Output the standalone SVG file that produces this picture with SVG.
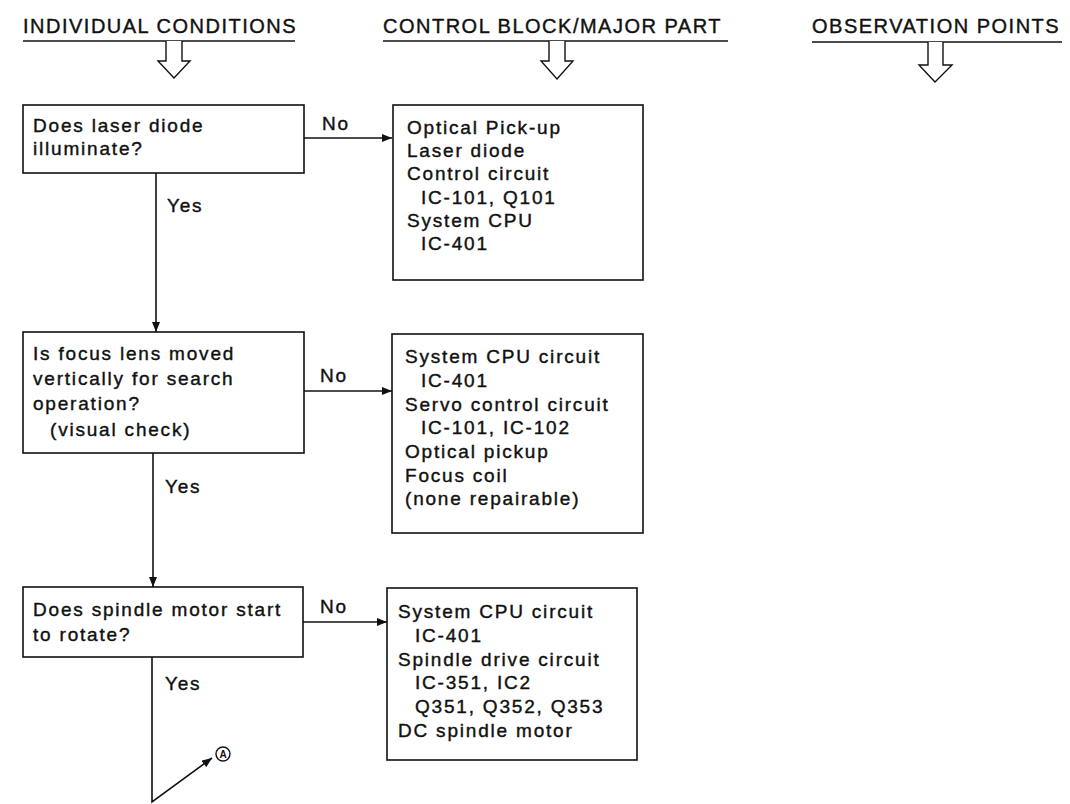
<svg xmlns="http://www.w3.org/2000/svg" width="1070" height="804" viewBox="0 0 1070 804">
<style>
text{font-family:"Liberation Sans",Arial,sans-serif;fill:#111;stroke:#111;stroke-width:0.4}
.h{font-size:20px;letter-spacing:1.5px}
.t{font-size:19px;letter-spacing:1.8px}
.box{fill:#fff;stroke:#111;stroke-width:1.6}
.ln{fill:none;stroke:#111;stroke-width:1.6}
.hol{fill:#fff;stroke:#111;stroke-width:1.4;stroke-linejoin:miter}
</style>
<defs>
<marker id="ah" viewBox="0 0 10 8" refX="10" refY="4" markerWidth="11" markerHeight="8" markerUnits="userSpaceOnUse" orient="auto">
<path d="M0,0 L10,4 L0,8 Z" fill="#111"/>
</marker>
</defs>
<g id="headers">
<text class="h" x="23" y="33">INDIVIDUAL CONDITIONS</text>
<line class="ln" x1="23" y1="41" x2="295" y2="41"/>
<path class="hol" d="M166,41 V61 H158 L174,78 L190,61 H182 V41"/>
<text class="h" x="383" y="33">CONTROL BLOCK/MAJOR PART</text>
<line class="ln" x1="383" y1="41" x2="728" y2="41"/>
<path class="hol" d="M549,41 V61 H541 L557,79 L573,61 H565 V41"/>
<text class="h" x="812" y="33">OBSERVATION POINTS</text>
<line class="ln" x1="812" y1="42" x2="1062" y2="42"/>
<path class="hol" d="M928,42 V65 H919 L935,82 L952,65 H943 V42"/>
</g>
<g id="connectors">
<line class="ln" x1="304" y1="138" x2="392" y2="138" marker-end="url(#ah)"/>
<line class="ln" x1="156" y1="173" x2="156" y2="332" marker-end="url(#ah)"/>
<line class="ln" x1="304" y1="391" x2="392" y2="391" marker-end="url(#ah)"/>
<line class="ln" x1="153" y1="453" x2="153" y2="587" marker-end="url(#ah)"/>
<line class="ln" x1="303" y1="622" x2="387" y2="622" marker-end="url(#ah)"/>
<polyline class="ln" points="152,657 152,802 212,758" marker-end="url(#ah)"/>
<text class="t" x="322" y="130">No</text>
<text class="t" x="167" y="212">Yes</text>
<text class="t" x="320" y="382">No</text>
<text class="t" x="165" y="493">Yes</text>
<text class="t" x="320" y="613">No</text>
<text class="t" x="165" y="690">Yes</text>
<circle cx="223" cy="754" r="7" fill="#fff" stroke="#111" stroke-width="1.4"/>
<text x="223" y="758" text-anchor="middle" style="font-size:10px;font-weight:bold;stroke-width:0">A</text>
</g>
<g id="q1">
<rect class="box" x="23" y="105" width="281" height="68"/>
<text class="t" x="33" y="132">Does laser diode</text>
<text class="t" x="33" y="155">illuminate?</text>
</g>
<g id="r1">
<rect class="box" x="393" y="105" width="250" height="175"/>
<text class="t" x="407" y="134">Optical Pick-up</text>
<text class="t" x="407" y="157">Laser diode</text>
<text class="t" x="407" y="180">Control circuit</text>
<text class="t" x="421" y="204">IC-101, Q101</text>
<text class="t" x="407" y="227">System CPU</text>
<text class="t" x="421" y="250">IC-401</text>
</g>
<g id="q2">
<rect class="box" x="23" y="332" width="281" height="121"/>
<text class="t" x="33" y="360">Is focus lens moved</text>
<text class="t" x="33" y="385">vertically for search</text>
<text class="t" x="33" y="410">operation?</text>
<text class="t" x="50" y="436">(visual check)</text>
</g>
<g id="r2">
<rect class="box" x="392" y="334" width="251" height="199"/>
<text class="t" x="405" y="363">System CPU circuit</text>
<text class="t" x="421" y="387">IC-401</text>
<text class="t" x="405" y="411">Servo control circuit</text>
<text class="t" x="421" y="434">IC-101, IC-102</text>
<text class="t" x="405" y="458">Optical pickup</text>
<text class="t" x="405" y="482">Focus coil</text>
<text class="t" x="405" y="505">(none repairable)</text>
</g>
<g id="q3">
<rect class="box" x="23" y="587" width="280" height="70"/>
<text class="t" x="33" y="616">Does spindle motor start</text>
<text class="t" x="33" y="641">to rotate?</text>
</g>
<g id="r3">
<rect class="box" x="387" y="588" width="250" height="172"/>
<text class="t" x="398" y="618">System CPU circuit</text>
<text class="t" x="415" y="642">IC-401</text>
<text class="t" x="398" y="666">Spindle drive circuit</text>
<text class="t" x="415" y="689">IC-351, IC2</text>
<text class="t" x="415" y="713">Q351, Q352, Q353</text>
<text class="t" x="398" y="737">DC spindle motor</text>
</g>
</svg>
